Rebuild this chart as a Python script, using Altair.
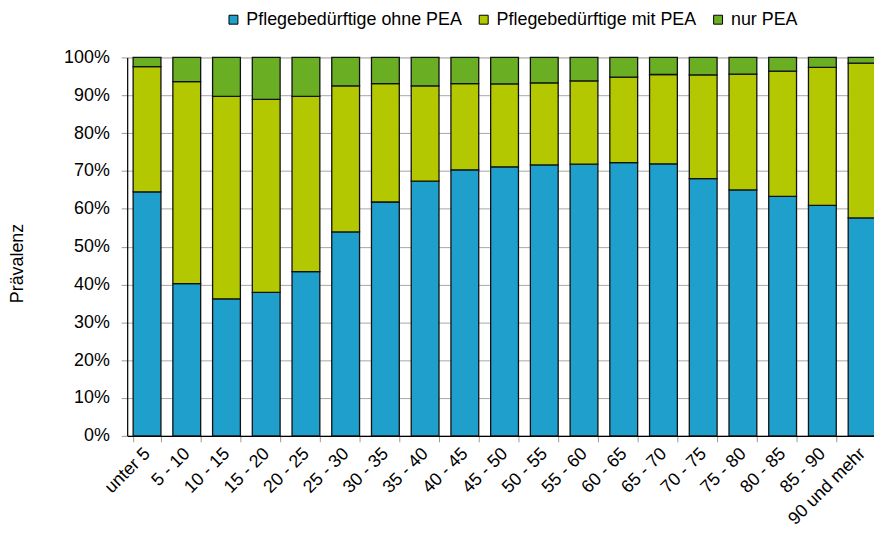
import altair as alt
import pandas as pd

categories = ["unter 5", "5 - 10", "10 - 15", "15 - 20", "20 - 25", "25 - 30",
              "30 - 35", "35 - 40", "40 - 45", "45 - 50", "50 - 55", "55 - 60",
              "60 - 65", "65 - 70", "70 - 75", "75 - 80", "80 - 85", "85 - 90",
              "90 und mehr"]
series = ["Pflegebedürftige ohne PEA", "Pflegebedürftige mit PEA", "nur PEA"]
ohne_pea = [64.5, 40.2, 36.2, 37.9, 43.4, 53.9, 61.8, 67.3, 70.3, 71.1, 71.6, 71.8,
            72.2, 71.9, 68.0, 65.0, 63.3, 60.9, 57.6]
mit_pea = [33.1, 53.4, 53.5, 51.0, 46.3, 38.6, 31.3, 25.2, 22.8, 21.9, 21.7, 22.0,
           22.6, 23.6, 27.4, 30.6, 33.1, 36.5, 40.9]
nur_pea = [2.4, 6.4, 10.3, 11.1, 10.3, 7.5, 6.9, 7.5, 6.9, 7.0, 6.7, 6.2,
           5.2, 4.5, 4.6, 4.4, 3.6, 2.6, 1.5]
colors = ["#1F9FCB", "#B3C800", "#6AAF23"]
y_ticks = [0, 10, 20, 30, 40, 50, 60, 70, 80, 90, 100]

rows = []
for k, (name, vals) in enumerate(zip(series, [ohne_pea, mit_pea, nur_pea])):
    for c, v in zip(categories, vals):
        rows.append({"Altersgruppe": c, "Gruppe": name, "Wert": v, "k": k})
df = pd.DataFrame(rows)

FONT = "Liberation Sans"

chart = alt.Chart(df).mark_bar(stroke="#111111", strokeWidth=1.3).encode(
    x=alt.X("Altersgruppe:N", sort=categories,
            scale=alt.Scale(range=[0, 760], paddingInner=0.3, paddingOuter=0.15),
            axis=alt.Axis(title=None, labelAngle=-45, labelAlign="right",
                          labelBaseline="middle", labelFontSize=18, labelFont=FONT,
                          labelColor="#000", labelPadding=9, tickBand="extent",
                          tickSize=6, tickColor="#999", domainColor="#000",
                          domainWidth=1.2, labelOverlap=False, labelLimit=0)),
    y=alt.Y("Wert:Q", stack="zero",
            scale=alt.Scale(domain=[0, 100], nice=False),
            axis=alt.Axis(title="Prävalenz", values=y_ticks,
                          labelExpr="datum.value + '%'", labelFontSize=18,
                          labelFont=FONT, labelColor="#000", labelPadding=12,
                          tickSize=6, tickColor="#999", domainColor="#000",
                          domainWidth=1.2, gridColor="#A6A6A6", grid=True,
                          titleFont=FONT, titleFontSize=18, titleFontWeight="normal",
                          titleColor="#000", titleX=-110, titleY=207,
                          titleAngle=270, titleAlign="center", titleBaseline="middle")),
    color=alt.Color("Gruppe:N", sort=series,
                    scale=alt.Scale(domain=series, range=colors),
                    legend=alt.Legend(title=None, orient="none", legendX=98,
                                      legendY=-47, direction="horizontal",
                                      symbolType="square", symbolSize=81,
                                      symbolStrokeColor="#000", symbolStrokeWidth=1,
                                      labelFontSize=18, labelFont=FONT,
                                      labelColor="#000", labelOffset=4,
                                      labelLimit=0, columnPadding=12)),
    order=alt.Order("k:Q", sort="ascending"),
).properties(
    width=752, height=381,
    autosize=alt.AutoSizeParams(type="none"),
    padding={"left": 120, "top": 48, "right": 0, "bottom": 90},
).configure_view(stroke=None).configure(background="white")

chart.save("out.html", embed_options={"renderer": "svg", "actions": False})
